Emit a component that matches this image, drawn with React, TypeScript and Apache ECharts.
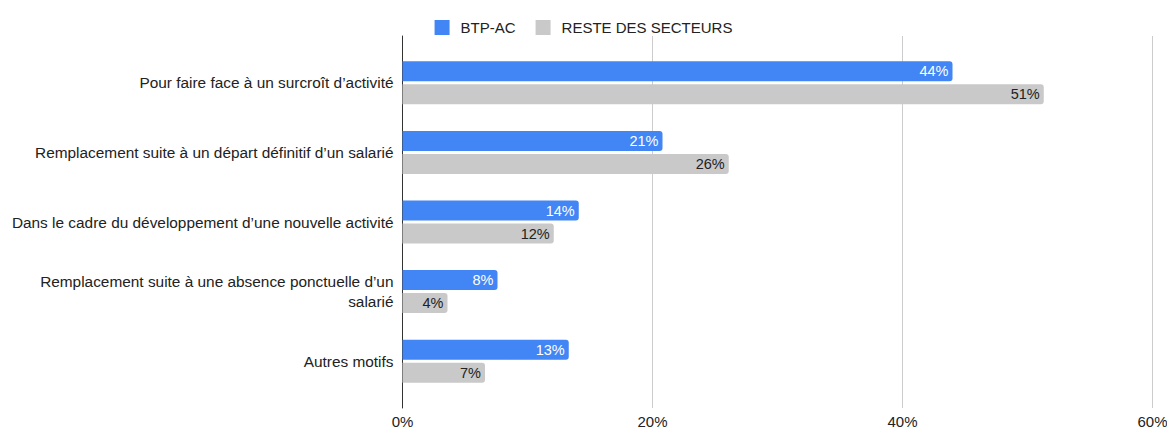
import React, { useEffect, useRef } from "react";
import * as echarts from "echarts";

const categories = [
  "Pour faire face à un surcroît d’activité",
  "Remplacement suite à un départ définitif d’un salarié",
  "Dans le cadre du développement d’une nouvelle activité",
  "Remplacement suite à une absence ponctuelle d’un salarié",
  "Autres motifs",
];
const btpAc = [44.0, 20.8, 14.1, 7.6, 13.3];
const resteSecteurs = [51.3, 26.1, 12.1, 3.6, 6.6];
const xTicks = [0, 20, 40, 60];

const FONT = "'Liberation Sans', Arial, sans-serif";
const CAT_FONT_SIZE = 15.4;
const MAX_LABEL_W = 390;

function wrapLabel(text: string): string {
  const canvas = document.createElement("canvas");
  const ctx = canvas.getContext("2d");
  if (!ctx) return text;
  ctx.font = `${CAT_FONT_SIZE}px ${FONT}`;
  const words = text.split(" ");
  const lines: string[] = [];
  let cur = "";
  for (const w of words) {
    const test = cur ? cur + " " + w : w;
    if (ctx.measureText(test).width > MAX_LABEL_W && cur) {
      lines.push(cur);
      cur = w;
    } else {
      cur = test;
    }
  }
  if (cur) lines.push(cur);
  return lines.join("\n");
}

export default function App() {
  const ref = useRef<HTMLDivElement>(null);
  useEffect(() => {
    document.body.style.margin = "0";
    document.body.style.overflow = "hidden";
    if (!ref.current) return;
    const chart = echarts.init(ref.current, undefined, { renderer: "svg" });
    const left = 402.5;
    const right = 14.5;
    chart.setOption({
      animation: false,
      textStyle: { fontFamily: FONT },
      legend: {
        top: 15,
        left: "center",
        itemWidth: 15,
        itemHeight: 15,
        itemGap: 20,
        icon: "rect",
        textStyle: { fontSize: 15, color: "#222", fontFamily: FONT, padding: [0, 0, 0, 6] },
        data: ["BTP-AC", "RESTE DES SECTEURS"],
      },
      grid: [
        { left, right, top: 48, bottom: 34, outerBoundsMode: "none" },
        { left, right, top: 36, bottom: 22, outerBoundsMode: "none" },
      ],
      xAxis: [
        {
          gridIndex: 0,
          type: "value",
          min: xTicks[0],
          max: xTicks[xTicks.length - 1],
          interval: 20,
          show: false,
        },
        {
          gridIndex: 1,
          type: "value",
          min: xTicks[0],
          max: xTicks[xTicks.length - 1],
          interval: 20,
          axisLine: { show: false },
          axisTick: { show: false },
          axisLabel: {
            formatter: (v: number) => `${v}%`,
            color: "#222",
            fontSize: 15,
            margin: 6,
            fontFamily: FONT,
          },
          splitLine: { show: true, lineStyle: { color: "#cccccc", width: 1 } },
        },
      ],
      yAxis: [
        {
          gridIndex: 0,
          type: "category",
          data: categories,
          inverse: true,
          axisLine: { show: false },
          axisTick: { show: false },
          axisLabel: {
            color: "#222",
            fontSize: CAT_FONT_SIZE,
            margin: 9,
            lineHeight: 20,
            align: "right",
            fontFamily: FONT,
            formatter: (v: string) => wrapLabel(v),
          },
        },
        {
          gridIndex: 1,
          type: "value",
          show: true,
          axisLine: { show: true, onZero: false, lineStyle: { color: "#333", width: 1 } },
          axisTick: { show: false },
          axisLabel: { show: false },
          splitLine: { show: false },
        },
      ],
      series: [
        {
          name: "BTP-AC",
          type: "bar",
          xAxisIndex: 0,
          yAxisIndex: 0,
          data: btpAc,
          barWidth: 20,
          barGap: "15%",
          itemStyle: { color: "#4285f4", borderRadius: [0, 3, 3, 0] },
          label: {
            show: true,
            position: "insideRight",
            color: "#ffffff",
            fontSize: 14.5,
            distance: 4,
            fontFamily: FONT,
            formatter: (p: any) => `${Math.round(p.value)}%`,
          },
        },
        {
          name: "RESTE DES SECTEURS",
          type: "bar",
          xAxisIndex: 0,
          yAxisIndex: 0,
          data: resteSecteurs,
          barWidth: 20,
          barGap: "15%",
          itemStyle: { color: "#c9c9c9", borderRadius: [0, 3, 3, 0] },
          label: {
            show: true,
            position: "insideRight",
            color: "#222",
            fontSize: 14.5,
            distance: 4,
            fontFamily: FONT,
            formatter: (p: any) => `${Math.round(p.value)}%`,
          },
        },
      ],
    });
    return () => chart.dispose();
  }, []);
  return <div ref={ref} style={{ width: 1167, height: 430 }} />;
}
